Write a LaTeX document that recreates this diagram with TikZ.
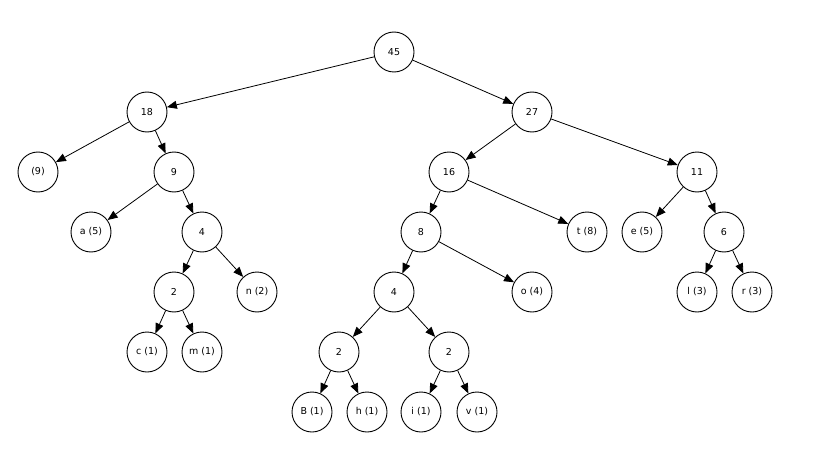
\documentclass[tikz,border=0pt]{standalone}
\usepackage{fontspec}
\setmainfont{DejaVu Sans}
\usetikzlibrary{arrows.meta}
\tikzset{
  tn/.style={circle,draw,line width=0.9pt,minimum size=40pt,inner sep=0pt,font=\fontsize{9.5}{11}\selectfont},
  ed/.style={line width=0.8pt,-{Triangle[length=10pt,width=8pt]}}
}
\begin{document}
\begin{tikzpicture}[x=1pt,y=-1pt]
\useasboundingbox (0,0) rectangle (833,452);
\node[tn] (n45) at (394,52) {45};
\node[tn] (n18) at (147,112) {18};
\node[tn] (n27) at (532,112) {27};
\node[tn] (p9) at (38,172) {(9)};
\node[tn] (n9) at (174,172) {9};
\node[tn] (n16) at (449,172) {16};
\node[tn] (n11) at (697,172) {11};
\node[tn] (a5) at (91,232) {a (5)};
\node[tn] (n4a) at (202,232) {4};
\node[tn] (n8) at (421,232) {8};
\node[tn] (t8) at (587,232) {t (8)};
\node[tn] (e5) at (642,232) {e (5)};
\node[tn] (n6) at (724,232) {6};
\node[tn] (n2a) at (174,292) {2};
\node[tn] (n2n) at (257,292) {n (2)};
\node[tn] (n4b) at (394,292) {4};
\node[tn] (o4) at (532,292) {o (4)};
\node[tn] (l3) at (697,292) {l (3)};
\node[tn] (r3) at (752,292) {r (3)};
\node[tn] (c1) at (147,352) {c (1)};
\node[tn] (m1) at (202,352) {m (1)};
\node[tn] (n2b) at (339,352) {2};
\node[tn] (n2c) at (449,352) {2};
\node[tn] (B1) at (312,412) {B (1)};
\node[tn] (h1) at (367,412) {h (1)};
\node[tn] (i1) at (421,412) {i (1)};
\node[tn] (v1) at (477,412) {v (1)};
\draw[ed] (n45) -- (n18);
\draw[ed] (n45) -- (n27);
\draw[ed] (n18) -- (p9);
\draw[ed] (n18) -- (n9);
\draw[ed] (n27) -- (n16);
\draw[ed] (n27) -- (n11);
\draw[ed] (n9) -- (a5);
\draw[ed] (n9) -- (n4a);
\draw[ed] (n16) -- (n8);
\draw[ed] (n16) -- (t8);
\draw[ed] (n11) -- (e5);
\draw[ed] (n11) -- (n6);
\draw[ed] (n4a) -- (n2a);
\draw[ed] (n4a) -- (n2n);
\draw[ed] (n8) -- (n4b);
\draw[ed] (n8) -- (o4);
\draw[ed] (n6) -- (l3);
\draw[ed] (n6) -- (r3);
\draw[ed] (n2a) -- (c1);
\draw[ed] (n2a) -- (m1);
\draw[ed] (n4b) -- (n2b);
\draw[ed] (n4b) -- (n2c);
\draw[ed] (n2b) -- (B1);
\draw[ed] (n2b) -- (h1);
\draw[ed] (n2c) -- (i1);
\draw[ed] (n2c) -- (v1);
\end{tikzpicture}
\end{document}
